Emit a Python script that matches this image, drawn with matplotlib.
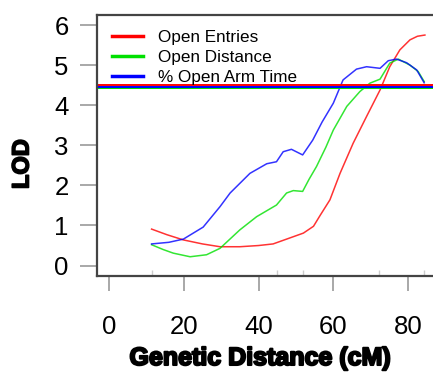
import matplotlib
matplotlib.use("Agg")
import matplotlib.pyplot as plt
import matplotlib.patheffects as pe

plt.rcParams['font.family'] = ['Liberation Sans', 'DejaVu Sans']

# Data (cM, LOD)
entries_x = [11.4, 15.5, 19.9, 25, 29.7, 35, 40, 43.9, 47.5, 52, 54.7, 56.4, 59.1, 61.8, 65.3, 68.9, 72.5, 75.1, 77.8, 80.5, 82.5, 84.5]
entries_y = [0.91, 0.77, 0.64, 0.54, 0.47, 0.47, 0.50, 0.54, 0.66, 0.81, 0.98, 1.24, 1.64, 2.30, 3.05, 3.72, 4.38, 4.96, 5.38, 5.63, 5.72, 5.75]

distance_x = [11.4, 14.5, 17.2, 21.7, 26.1, 29.7, 35, 39.5, 44.8, 47.5, 49.3, 51.8, 53.5, 55.5, 58, 60, 63.6, 67.1, 69.8, 72.5, 75.1, 77.4, 80.5, 82.7, 84.3]
distance_y = [0.52, 0.40, 0.31, 0.22, 0.27, 0.43, 0.89, 1.22, 1.51, 1.81, 1.87, 1.85, 2.15, 2.47, 2.95, 3.38, 3.97, 4.34, 4.55, 4.65, 5.05, 5.15, 5.00, 4.84, 4.59]

armtime_x = [11.4, 16, 19.9, 25.2, 29.7, 32.4, 37.7, 42.2, 44.8, 46.6, 48.8, 51.8, 54.5, 57, 60, 62.6, 66.2, 68.9, 72.5, 74.7, 76.9, 79.6, 82.3, 84.3]
armtime_y = [0.54, 0.58, 0.66, 0.96, 1.47, 1.81, 2.30, 2.54, 2.59, 2.84, 2.90, 2.76, 3.13, 3.58, 4.05, 4.63, 4.90, 4.96, 4.92, 5.11, 5.15, 5.06, 4.88, 4.56]

thresholds = {'Open Entries': 4.50, '% Open Arm Time': 4.46, 'Open Distance': 4.42}
labels = ['Open Entries', 'Open Distance', '% Open Arm Time']
colors = ['#ff0000', '#00e000', '#0000ff']
markers = [11.5, 45, 51.9, 72.2, 84.2]
xticks = [0, 20, 40, 60, 80]
yticks = [0, 1, 2, 3, 4, 5, 6]

W, H = 433, 372
fig = plt.figure(figsize=(W / 100, H / 100), dpi=100)
left, right, top, bottom = 97, 438, 15, 276
ax = fig.add_axes([left / W, 1 - bottom / H, (right - left) / W, (bottom - top) / H])

xs = [entries_x, distance_x, armtime_x]
ys = [entries_y, distance_y, armtime_y]
for x, y, c, lab in zip(xs, ys, colors, labels):
    ax.plot(x, y, color=c, lw=1.1, alpha=0.8, label=lab)

for lab, c in [('Open Entries', colors[0]), ('Open Distance', colors[1]), ('% Open Arm Time', colors[2])]:
    ax.axhline(thresholds[lab], color=c, lw=1.4)

ax.set_xlim(-3.2, 88)
ax.set_ylim(-0.26, 6.25)
ax.set_xticks(xticks)
ax.set_yticks(yticks)
ax.set_xticks(markers, minor=True)
ax.tick_params(axis='x', which='major', length=11, width=1.2, color='#999999',
               labelsize=18.5, pad=17)
ax.tick_params(axis='x', which='minor', direction='in', length=4.5, width=1.0,
               color='#cccccc', labelbottom=False)
ax.tick_params(axis='y', which='major', length=12, width=1.2, color='#999999',
               labelsize=18.5, pad=8.5)
for s in ax.spines.values():
    s.set_color('#444444')
    s.set_linewidth(1.6)

leg = ax.legend(loc='upper left', bbox_to_anchor=(0.043, 0.942), frameon=False,
                fontsize=12.3, handlelength=1.85, handletextpad=0.85,
                labelspacing=0.3, borderpad=0, borderaxespad=0)
for h in leg.get_lines():
    h.set_linewidth(2.5)
    h.set_alpha(1)

fig.text(22 / W, 1 - 164 / H, 'LOD', rotation=90, ha='center', va='center',
         fontsize=17, fontweight='bold',
         path_effects=[pe.withStroke(linewidth=1.2, foreground='black')])
fig.text(260 / W, 1 - 358 / H, 'Genetic Distance (cM)', ha='center', va='center',
         fontsize=18, fontweight='bold',
         path_effects=[pe.withStroke(linewidth=1.5, foreground='black')])

fig.savefig('out.png', dpi=100)
